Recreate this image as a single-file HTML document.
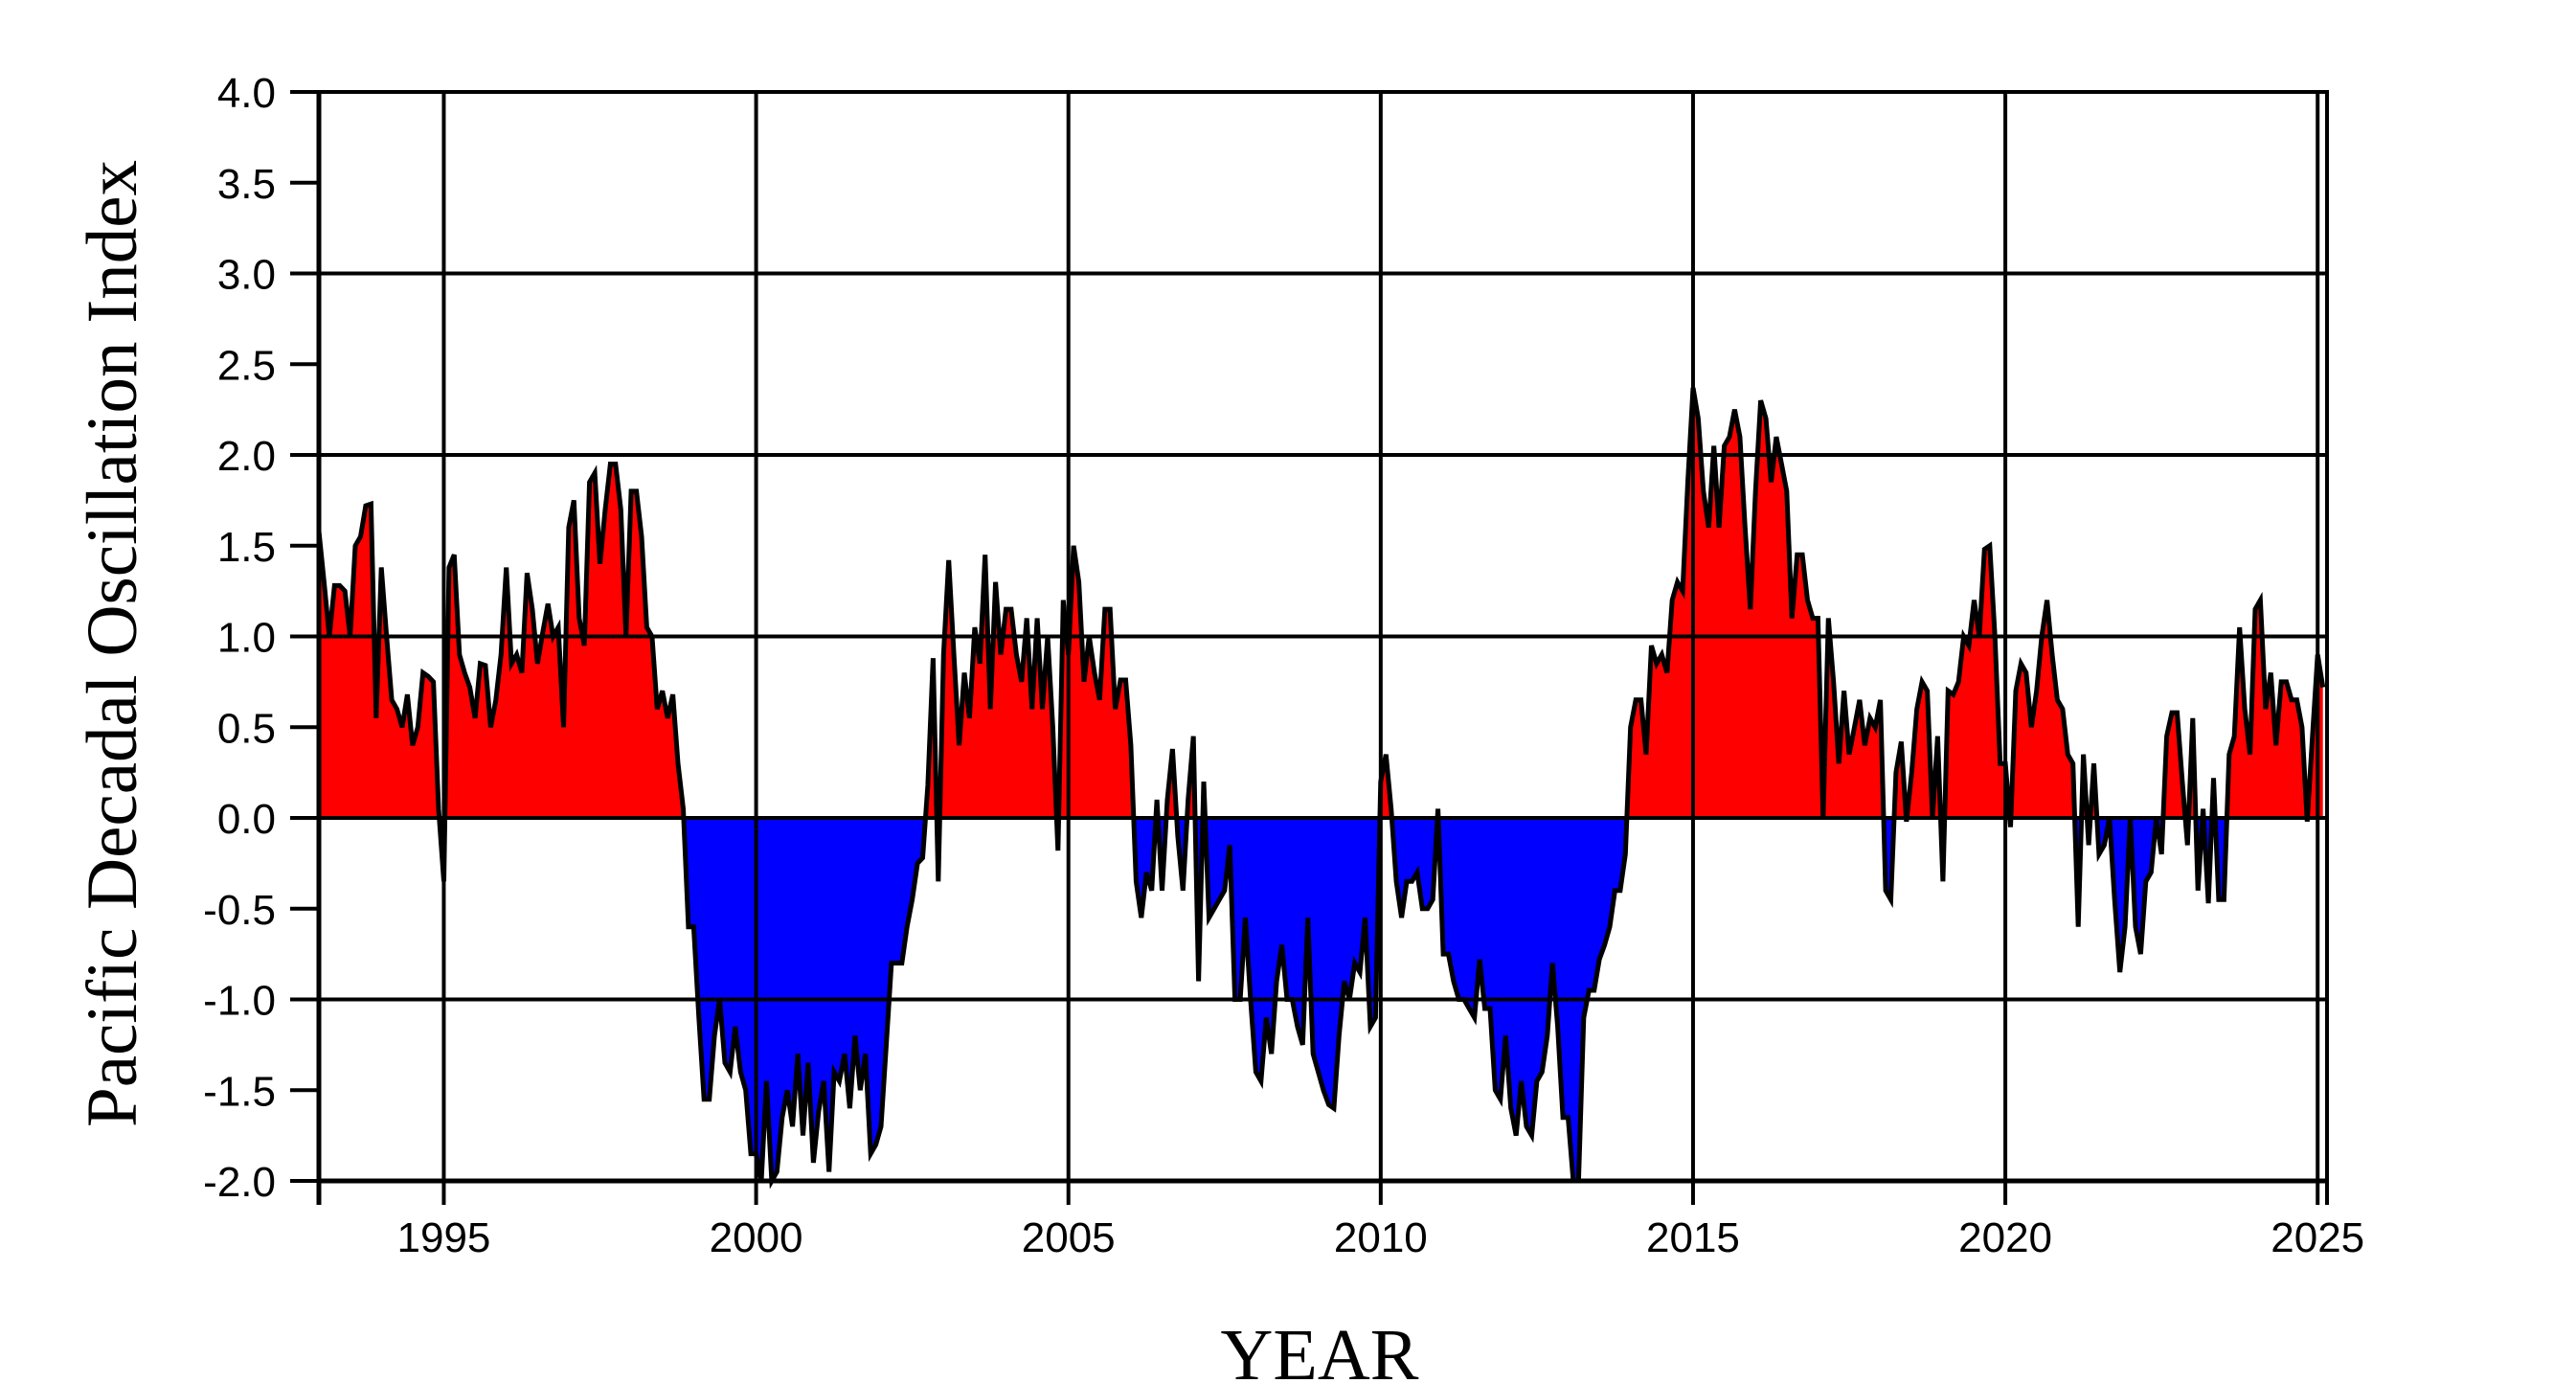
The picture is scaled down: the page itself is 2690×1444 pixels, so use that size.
<!DOCTYPE html>
<html><head><meta charset="utf-8"><style>
html,body{margin:0;padding:0;background:#fff;}
svg{display:block;}
</style></head><body>
<svg id="chart" width="2690" height="1444" viewBox="0 0 2690 1444" xmlns="http://www.w3.org/2000/svg">
<rect x="0" y="0" width="2690" height="1444" fill="#fff"/>
<g id="plot"></g>
<text x="1378" y="1440" font-family="'Liberation Serif', serif" font-size="76" text-anchor="middle">YEAR</text>
<text transform="translate(142,672) rotate(-90)" font-family="'Liberation Serif', serif" font-size="75" text-anchor="middle">Pacific Decadal Oscillation Index</text>
</svg>
<script>
const startYear = 1993;
const yTickValues = [-2.0,-1.5,-1.0,-0.5,0.0,0.5,1.0,1.5,2.0,2.5,3.0,3.5,4.0];
const yGridValues = [-2,-1,0,1,2,3,4];
const xTickLabels = ["1995","2000","2005","2010","2015","2020","2025"];
const pdo1993 = [1.58,1.3,1.0,1.28,1.28,1.25,1.0,1.5,1.55,1.72,1.73,0.55];
const pdo1994 = [1.38,1.0,0.65,0.6,0.5,0.68,0.4,0.5,0.8,0.78,0.75,0.05];
const pdo1995 = [-0.35,1.38,1.45,0.9,0.8,0.72,0.55,0.85,0.84,0.5,0.65,0.9];
const pdo1996 = [1.38,0.85,0.9,0.8,1.35,1.15,0.85,1.02,1.18,1.0,1.05,0.5];
const pdo1997 = [1.6,1.75,1.1,0.95,1.85,1.9,1.4,1.7,1.95,1.95,1.7,1.0];
const pdo1998 = [1.8,1.8,1.55,1.05,1.0,0.6,0.7,0.55,0.68,0.3,0.05,-0.6];
const pdo1999 = [-0.6,-1.1,-1.55,-1.55,-1.2,-1.0,-1.35,-1.4,-1.15,-1.4,-1.5,-1.85];
const pdo2000 = [-1.85,-2.0,-1.45,-2.0,-1.95,-1.65,-1.5,-1.7,-1.3,-1.75,-1.35,-1.9];
const pdo2001 = [-1.62,-1.45,-1.95,-1.4,-1.45,-1.3,-1.6,-1.2,-1.5,-1.3,-1.85,-1.8];
const pdo2002 = [-1.7,-1.25,-0.8,-0.8,-0.8,-0.6,-0.45,-0.25,-0.22,0.18,0.88,-0.35];
const pdo2003 = [0.9,1.42,0.9,0.4,0.8,0.55,1.05,0.85,1.45,0.6,1.3,0.9];
const pdo2004 = [1.15,1.15,0.9,0.75,1.1,0.6,1.1,0.6,1.0,0.5,-0.18,1.2];
const pdo2005 = [0.9,1.5,1.3,0.75,1.0,0.8,0.65,1.15,1.15,0.6,0.76,0.76];
const pdo2006 = [0.4,-0.35,-0.55,-0.3,-0.4,0.1,-0.4,0.1,0.38,-0.1,-0.4,0.1];
const pdo2007 = [0.45,-0.9,0.2,-0.55,-0.5,-0.45,-0.4,-0.15,-1.0,-1.0,-0.55,-1.0];
const pdo2008 = [-1.4,-1.45,-1.1,-1.3,-0.9,-0.7,-1.0,-1.0,-1.15,-1.25,-0.55,-1.3];
const pdo2009 = [-1.4,-1.5,-1.58,-1.6,-1.2,-0.9,-1.0,-0.8,-0.85,-0.55,-1.15,-1.1];
const pdo2010 = [0.2,0.35,0.05,-0.35,-0.55,-0.35,-0.35,-0.3,-0.5,-0.5,-0.45,0.05];
const pdo2011 = [-0.75,-0.75,-0.9,-1.0,-1.0,-1.05,-1.1,-0.78,-1.05,-1.05,-1.5,-1.55];
const pdo2012 = [-1.2,-1.6,-1.75,-1.45,-1.7,-1.75,-1.45,-1.4,-1.2,-0.8,-1.15,-1.65];
const pdo2013 = [-1.65,-2.0,-2.0,-1.1,-0.95,-0.95,-0.78,-0.7,-0.6,-0.4,-0.4,-0.2];
const pdo2014 = [0.5,0.65,0.65,0.35,0.95,0.85,0.9,0.8,1.2,1.3,1.25,1.85];
const pdo2015 = [2.37,2.2,1.8,1.6,2.05,1.6,2.05,2.1,2.25,2.1,1.6,1.15];
const pdo2016 = [1.8,2.3,2.2,1.85,2.1,1.95,1.8,1.1,1.45,1.45,1.2,1.1];
const pdo2017 = [1.1,0.0,1.1,0.75,0.3,0.7,0.35,0.5,0.65,0.4,0.55,0.5];
const pdo2018 = [0.65,-0.4,-0.45,0.25,0.42,-0.02,0.25,0.6,0.75,0.7,0.0,0.45];
const pdo2019 = [-0.35,0.7,0.68,0.75,1.0,0.95,1.2,1.0,1.48,1.5,1.0,0.3];
const pdo2020 = [0.3,-0.05,0.7,0.85,0.8,0.5,0.7,1.0,1.2,0.9,0.65,0.6];
const pdo2021 = [0.35,0.3,-0.6,0.35,-0.15,0.3,-0.2,-0.15,0.0,-0.45,-0.85,-0.6];
const pdo2022 = [0.0,-0.6,-0.75,-0.35,-0.3,0.0,-0.2,0.45,0.58,0.58,0.2,-0.15];
const pdo2023 = [0.55,-0.4,0.05,-0.47,0.22,-0.45,-0.45,0.35,0.45,1.05,0.6,0.35];
const pdo2024 = [1.15,1.2,0.6,0.8,0.4,0.75,0.75,0.65,0.65,0.5,-0.02,0.45];
const pdo2025 = [0.9,0.72];

const values = [].concat(pdo1993,pdo1994,pdo1995,pdo1996,pdo1997,pdo1998,pdo1999,pdo2000,pdo2001,pdo2002,pdo2003,pdo2004,pdo2005,pdo2006,pdo2007,pdo2008,pdo2009,pdo2010,pdo2011,pdo2012,pdo2013,pdo2014,pdo2015,pdo2016,pdo2017,pdo2018,pdo2019,pdo2020,pdo2021,pdo2022,pdo2023,pdo2024,pdo2025);

const NS = "http://www.w3.org/2000/svg";
const L = 333, R = 2430, T = 96, B = 1233;
const X0 = 1993.0, X1 = 2025.15, Y0 = -2, Y1 = 4;
function xs(t){ return L + (t - X0) / (X1 - X0) * (R - L); }
function ys(v){ return B - (v - Y0) / (Y1 - Y0) * (B - T); }
const plot = document.getElementById('plot');
function mk(tag, attrs){ const e = document.createElementNS(NS, tag); for (const k in attrs) e.setAttribute(k, attrs[k]); return e; }

// clip paths
const defs = mk('defs', {});
const cpA = mk('clipPath', {id:'above'}); cpA.appendChild(mk('rect',{x:L,y:T,width:R-L,height:ys(0)-T}));
const cpB = mk('clipPath', {id:'below'}); cpB.appendChild(mk('rect',{x:L,y:ys(0),width:R-L,height:B-ys(0)}));
defs.appendChild(cpA); defs.appendChild(cpB); plot.appendChild(defs);

// area
const pts = values.map((v,i)=> xs(startYear + i/12).toFixed(1) + ',' + ys(v).toFixed(1));
const lastX = xs(startYear + (values.length-1)/12).toFixed(1);
const firstX = xs(startYear).toFixed(1);
const areaD = 'M' + firstX + ',' + ys(0) + ' L' + pts.join(' L') + ' L' + lastX + ',' + ys(0) + ' Z';
const pos = mk('path', {d:areaD, fill:'#ff0000', 'clip-path':'url(#above)'});


plot.appendChild(pos);
const neg = mk('path', {d:areaD, fill:'#0000ff', 'clip-path':'url(#below)'});


plot.appendChild(neg);
const line = mk('polyline', {points: pts.join(' '), fill:'none', stroke:'#000', 'stroke-width':5, 'stroke-linejoin':'miter'});


plot.appendChild(line);

// horizontal grid
yGridValues.forEach(v=>{
  const g = mk('line', {x1:L, x2:R, y1:ys(v), y2:ys(v), stroke:'#000', 'stroke-width':4});
  
  
  plot.appendChild(g);
});
// vertical grid + x ticks
xTickLabels.forEach(lbl=>{
  const x = xs(parseFloat(lbl));
  const g = mk('line', {x1:x, x2:x, y1:T, y2:B+25, stroke:'#000', 'stroke-width':4});
  
  
  plot.appendChild(g);
  const t = mk('text', {x:x, y:1307, 'font-family':"'Liberation Sans', sans-serif", 'font-size':44, 'text-anchor':'middle'});
  t.textContent = lbl;
  
  
  plot.appendChild(t);
});
// y ticks
yTickValues.forEach(v=>{
  const tk = mk('line', {x1:303, x2:L, y1:ys(v), y2:ys(v), stroke:'#000', 'stroke-width':4});
  
  
  plot.appendChild(tk);
  const t = mk('text', {x:288, y:ys(v)+16, 'font-family':"'Liberation Sans', sans-serif", 'font-size':44, 'text-anchor':'end'});
  t.textContent = v.toFixed(1);
  
  
  plot.appendChild(t);
});
// axes frame
const la = mk('line', {x1:L, x2:L, y1:T-2, y2:B+25, stroke:'#000', 'stroke-width':5});


plot.appendChild(la);
const ra = mk('line', {x1:R, x2:R, y1:T-2, y2:B+25, stroke:'#000', 'stroke-width':4});


plot.appendChild(ra);
const ba = mk('line', {x1:L, x2:R, y1:B, y2:B, stroke:'#000', 'stroke-width':5});


plot.appendChild(ba);
</script>
</body></html>
